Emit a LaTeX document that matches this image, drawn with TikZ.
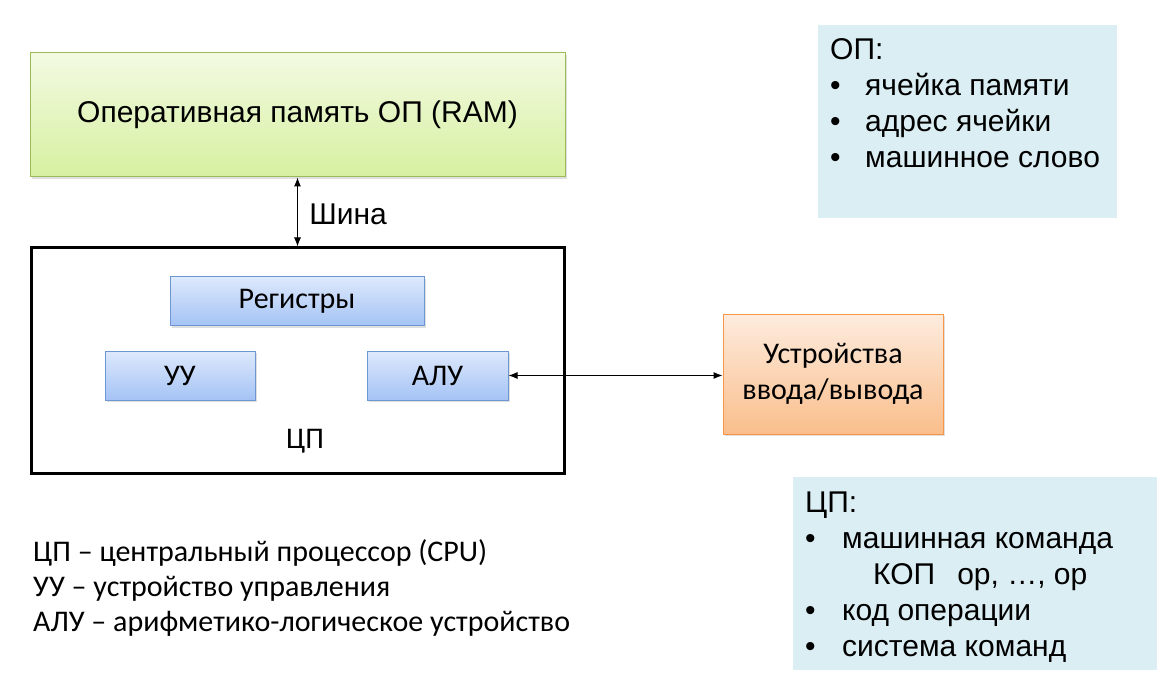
\documentclass[tikz,border=0pt]{standalone}
\usepackage{fontspec}
\setmainfont{Liberation Sans}
\newfontfamily\calfont{Carlito}
\usetikzlibrary{arrows.meta, positioning, shadows}
\definecolor{ramtop}{RGB}{243,250,226}
\definecolor{rambottom}{RGB}{214,240,160}
\definecolor{ramline}{RGB}{155,187,89}
\definecolor{unittop}{RGB}{222,233,252}
\definecolor{unitbottom}{RGB}{164,195,245}
\definecolor{unitline}{RGB}{110,150,210}
\definecolor{iotop}{RGB}{253,236,222}
\definecolor{iobottom}{RGB}{250,190,140}
\definecolor{ioline}{RGB}{247,150,70}
\definecolor{infofill}{RGB}{219,238,243}
\newcommand{\itm}[1][35pt]{\makebox[#1][l]{\textbullet}}

\begin{document}
\begin{tikzpicture}[
    x=1pt, y=-1pt,
    shade/.style={drop shadow={opacity=0.25, shadow xshift=2pt, shadow yshift=-2pt}},
    rambox/.style={rectangle, draw=ramline, top color=ramtop, bottom color=rambottom, line width=1pt,
        minimum width=535pt, minimum height=124pt, font=\fontsize{30}{36}\selectfont, shade},
    cpubox/.style={rectangle, draw=black, line width=3pt, minimum width=533pt, minimum height=225pt},
    unitbox/.style={rectangle, draw=unitline, top color=unittop, bottom color=unitbottom, line width=1pt,
        minimum height=49pt, font=\calfont\fontsize{30}{36}\selectfont, shade},
    iobox/.style={rectangle, draw=ioline, top color=iotop, bottom color=iobottom, line width=1pt,
        minimum width=220pt, minimum height=120pt, align=center, font=\calfont\fontsize{30}{36}\selectfont, shade},
    infobox/.style={rectangle, fill=infofill, inner sep=0pt},
    infotext/.style={align=left, inner sep=0pt, font=\fontsize{30}{36}\selectfont},
    biarr/.style={{Latex[length=9pt,width=7pt]}-{Latex[length=9pt,width=7pt]}, line width=1pt},
]
\useasboundingbox (0,0) rectangle (1161,676);

% Memory, bus and processor
\node[rambox] (ram) at (297.5,115) {Оперативная память ОП (RAM)};
\node[cpubox] (cpu) at (297.5,360.5) {};
\draw[biarr] (ram.south) -- (cpu.north)
    node[midway, right=8pt, yshift=-2pt, font=\fontsize{30}{36}\selectfont] (bus) {Шина};

% Units inside the processor
\node[unitbox, minimum width=254pt] (reg) at (297,301) {Регистры};
\node[unitbox, minimum width=150pt] (cu) at (180,375.5) {УУ};
\node[unitbox, minimum width=141pt] (alu) at (437.5,375.5) {АЛУ};
\node[font=\calfont\fontsize{30}{36}\selectfont] (cpulabel) at (305,441) {ЦП};

% Input/output
\node[iobox] (io) at (833,374) {Устройства\\ввода/вывода};
\draw[biarr] (alu.east) -- (alu.east -| io.west);

% Notes on the right
\node[infobox, minimum width=299pt, minimum height=193pt] (opinfo) at (967.5,121.5) {};
\node[infotext, anchor=north west] (optext) at (830,38)
    {ОП:\\\itm ячейка памяти\\\itm адрес ячейки\\\itm машинное слово};
\node[infobox, minimum width=364pt, minimum height=193pt] (cpuinfo) at (975,573.5) {};
\node[infotext, anchor=north west] (cputext) at (805,492)
    {ЦП:\\\itm[37pt]машинная команда\\\hspace*{68pt}КОП\hspace{22pt}op, …, op\\
     \itm[37pt]код операции\\\itm[37pt]система команд};

% Legend
\node[align=left, inner sep=0pt, anchor=north west, font=\calfont\fontsize{30}{35}\selectfont] (legend) at (33,539)
    {ЦП – центральный процессор (CPU)\\УУ – устройство управления\\АЛУ – арифметико-логическое устройство};
\end{tikzpicture}
\end{document}
